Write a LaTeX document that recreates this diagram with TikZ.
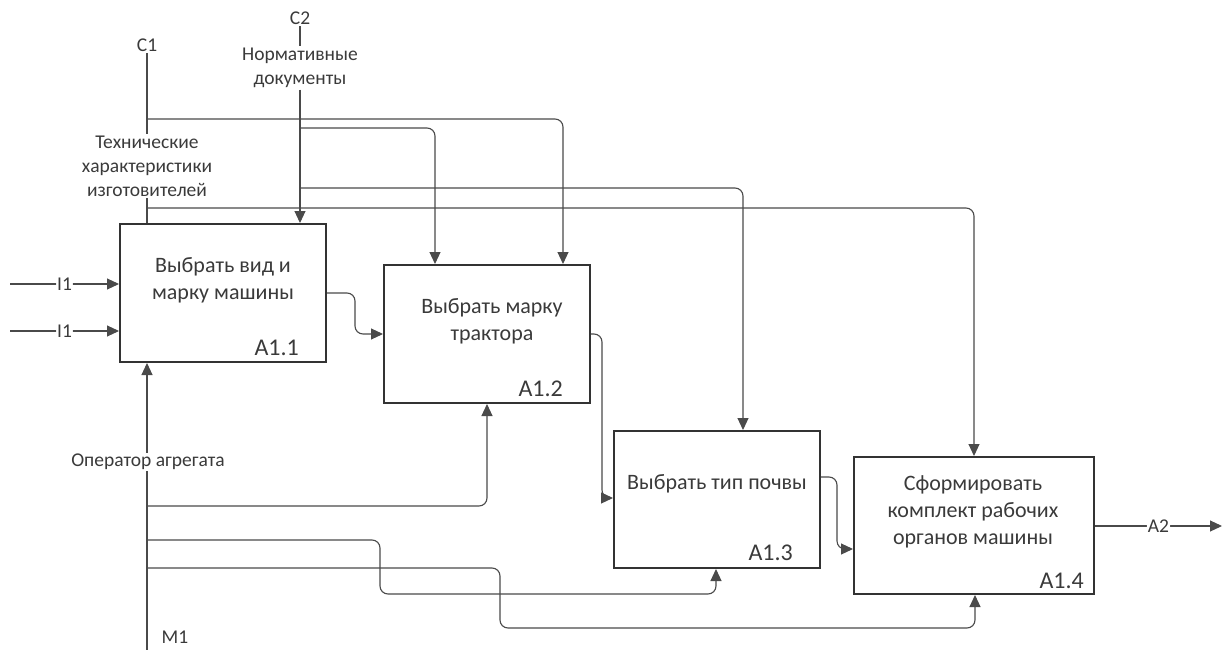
\documentclass[tikz,border=0pt]{standalone}
\usepackage{fontspec}
\setmainfont{Carlito}
\usetikzlibrary{arrows.meta}
\definecolor{boxc}{HTML}{333333}
\definecolor{linec}{HTML}{4A4A4A}
\definecolor{txt}{HTML}{3A3A3A}
\begin{document}
\begin{tikzpicture}[x=1pt,y=-1pt,
  fbox/.style={draw=boxc,line width=2pt,minimum width=206pt,minimum height=138pt,inner sep=0pt},
  btxt/.style={text=txt,font=\fontsize{22}{27}\selectfont,align=center,inner sep=0pt},
  blbl/.style={text=txt,font=\fontsize{24}{26}\selectfont,inner sep=0pt},
  slbl/.style={text=txt,font=\fontsize{19.5}{24}\selectfont,align=center,inner sep=1.5pt},
  conn/.style={draw=linec,line width=1.1pt,rounded corners=8pt},
  arr/.style={conn,-{Triangle[length=12pt,width=11pt]}}
]
\useasboundingbox (0,0) rectangle (1229,650);
% boxes
\node[fbox] (A11) at (223,293) {};
\node[fbox] (A12) at (487,334) {};
\node[fbox,minimum height=137pt] (A13) at (717,499.5) {};
\node[fbox,minimum width=240pt,minimum height=137pt] (A14) at (974,525.5) {};
% box texts
\node[btxt] (t11) at (223,280) {Выбрать вид и\\марку машины};
\node[btxt] (t12) at (492,321) {Выбрать марку\\трактора};
\node[btxt] (t13) at (717,484) {Выбрать тип почвы};
\node[btxt] (t14) at (973,512) {Сформировать\\комплект рабочих\\органов машины};
\node[blbl,anchor=east] (l11) at (299,348) {A1.1};
\node[blbl,anchor=east] (l12) at (563,389) {A1.2};
\node[blbl,anchor=east] (l13) at (793,553) {A1.3};
\node[blbl,anchor=east] (l14) at (1084,581) {A1.4};
% control labels
\node[slbl] (C1) at (147,45) {C1};
\node[slbl] (tech) at (147,166) {Технические\\характеристики\\изготовителей};
\node[slbl] (C2) at (300,18) {C2};
\node[slbl] (norm) at (300,68) {Нормативные\\документы};
% control coordinates
\coordinate (j1) at (147,119); \coordinate (k1) at (563,119);
\coordinate (j2) at (147,208); \coordinate (k2) at (974,208);
\coordinate (j3) at (300,128); \coordinate (k3) at (435,128);
\coordinate (j4) at (300,188); \coordinate (k4) at (743,188);
% C1
\draw[conn] (C1.south) -- (tech.north);
\draw[conn] (tech.south) -- (A11.north -| tech.south);
\draw[arr] (j1) -- (k1) -- (A12.north -| k1);
\draw[arr] (j2) -- (k2) -- (A14.north -| k2);
% C2
\draw[conn] (C2.south) -- (norm.north);
\draw[arr] (norm.south) -- (A11.north -| norm.south);
\draw[arr] (j3) -- (k3) -- (A12.north -| k3);
\draw[arr] (j4) -- (k4) -- (A13.north -| k4);
% inputs
\coordinate (in1) at (10,284); \coordinate (in2) at (10,331);
\draw[arr] (in1) -- node[slbl,fill=white,inner sep=1pt,pos=0.5] (I1a) {I1} (A11.west |- in1);
\draw[arr] (in2) -- node[slbl,fill=white,inner sep=1pt,pos=0.5] (I1b) {I1} (A11.west |- in2);
% flows between boxes
\coordinate (o1) at (355,293); \coordinate (o1b) at (355,334);
\draw[arr] (A11.east |- o1) -- (o1) -- (o1b) -- (A12.west |- o1b);
\coordinate (o2) at (602,334); \coordinate (o2b) at (602,498);
\draw[arr] (A12.east |- o2) -- (o2) -- (o2b) -- (A13.west |- o2b);
\coordinate (o3) at (837,477); \coordinate (o3b) at (837,549);
\draw[arr] (A13.east |- o3) -- (o3) -- (o3b) -- (A14.west |- o3b);
\coordinate (out) at (1222,526);
\draw[arr] (A14.east |- out) -- node[slbl,fill=white,inner sep=1pt,pos=0.5] (A2) {A2} (out);
% mechanism
\coordinate (mb) at (147,650);
\node[slbl] (M1) at (175,637) {M1};
\draw[arr] (mb) -- (A11.south -| mb);
\node[slbl,fill=white,inner sep=1pt] (oper) at (148,462) {Оператор агрегата};
\coordinate (m5) at (147,506); \coordinate (n5) at (487,506);
\draw[arr] (m5) -- (n5) -- (A12.south -| n5);
\coordinate (m6) at (147,540); \coordinate (n6) at (380,540); \coordinate (n6b) at (380,594); \coordinate (n6c) at (716,594);
\draw[arr] (m6) -- (n6) -- (n6b) -- (n6c) -- (A13.south -| n6c);
\coordinate (m7) at (147,568); \coordinate (n7) at (500,568); \coordinate (n7b) at (500,628); \coordinate (n7c) at (975,628);
\draw[arr] (m7) -- (n7) -- (n7b) -- (n7c) -- (A14.south -| n7c);
\end{tikzpicture}
\end{document}
